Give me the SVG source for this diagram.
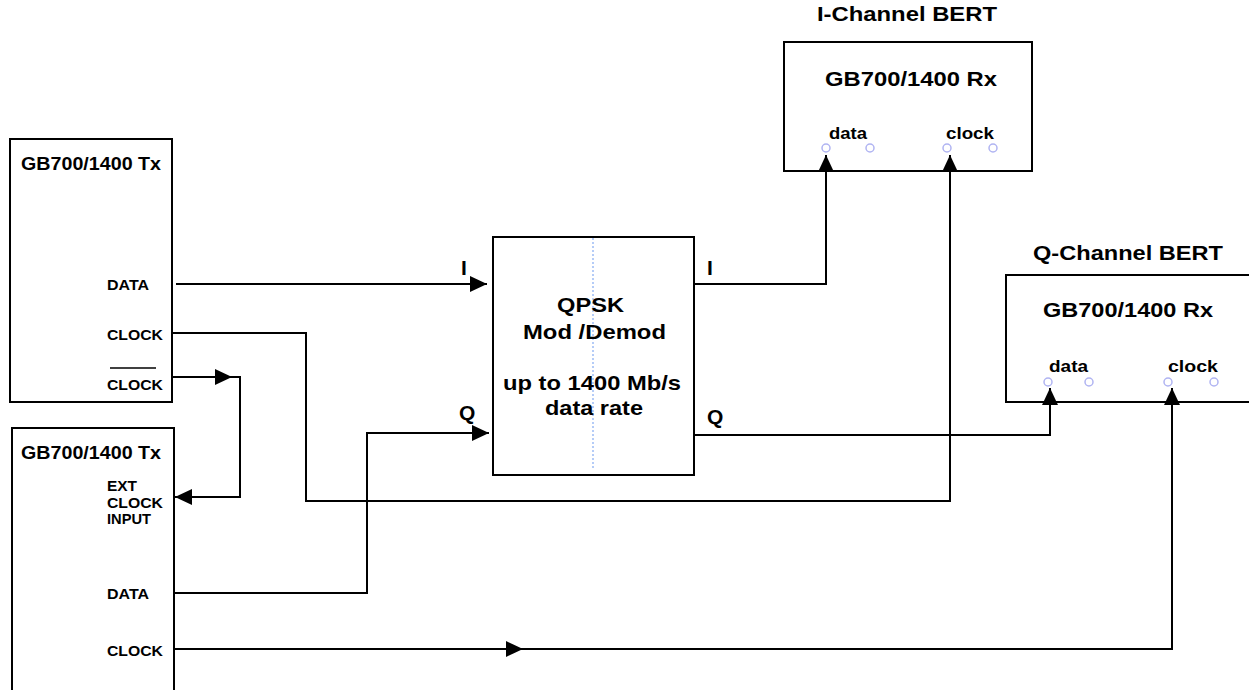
<svg xmlns="http://www.w3.org/2000/svg" width="1249" height="690" viewBox="0 0 1249 690">
<style>
.box{fill:none;stroke:#000;stroke-width:2}
.ln{fill:none;stroke:#000;stroke-width:2}
.arr{marker-end:url(#ah)}
text{font-family:"Liberation Sans",Arial,sans-serif;font-weight:bold;fill:#000}
.lbl{font-size:14px}
.ttl{font-size:19px}
.big{font-size:21px}
.sm{font-size:16px}
.pin{fill:none;stroke:#b0b4f2;stroke-width:1.5}
</style>
<defs>
<marker id="ah" viewBox="0 0 17 16" refX="17" refY="8" markerWidth="17" markerHeight="16" markerUnits="userSpaceOnUse" orient="auto">
<path d="M0,0 L17,8 L0,16 Z" fill="#000"/>
</marker>
</defs>
<rect width="1249" height="690" fill="#fff"/>

<g id="tx1">
<rect class="box" x="10" y="139" width="162" height="263"/>
<text class="ttl" x="21" y="170" textLength="140" lengthAdjust="spacingAndGlyphs">GB700/1400 Tx</text>
<text class="lbl" x="107" y="290" textLength="42" lengthAdjust="spacingAndGlyphs">DATA</text>
<text class="lbl" x="107" y="340" textLength="56" lengthAdjust="spacingAndGlyphs">CLOCK</text>
<line x1="110" y1="368" x2="156" y2="368" stroke="#000" stroke-width="1.5"/>
<text class="lbl" x="107" y="390" textLength="56" lengthAdjust="spacingAndGlyphs">CLOCK</text>
</g>

<g id="tx2">
<path class="box" d="M12,700 V428 H174 V700"/>
<text class="ttl" x="21" y="459" textLength="140" lengthAdjust="spacingAndGlyphs">GB700/1400 Tx</text>
<text class="lbl" x="107" y="491" textLength="30" lengthAdjust="spacingAndGlyphs">EXT</text>
<text class="lbl" x="107" y="508" textLength="56" lengthAdjust="spacingAndGlyphs">CLOCK</text>
<text class="lbl" x="107" y="524" textLength="44" lengthAdjust="spacingAndGlyphs">INPUT</text>
<text class="lbl" x="107" y="599" textLength="42" lengthAdjust="spacingAndGlyphs">DATA</text>
<text class="lbl" x="107" y="656" textLength="56" lengthAdjust="spacingAndGlyphs">CLOCK</text>
</g>

<g id="qpsk">
<rect class="box" x="493" y="237" width="201" height="238"/>
<line x1="593" y1="238" x2="593" y2="470" stroke="#9dbcf5" stroke-width="1.5" stroke-dasharray="2,2"/>
<text class="big" x="557" y="312" textLength="67" lengthAdjust="spacingAndGlyphs">QPSK</text>
<text class="big" x="523" y="339" textLength="143" lengthAdjust="spacingAndGlyphs">Mod /Demod</text>
<text class="big" x="503" y="390" textLength="178" lengthAdjust="spacingAndGlyphs">up to 1400 Mb/s</text>
<text class="big" x="545" y="415" textLength="98" lengthAdjust="spacingAndGlyphs">data rate</text>
</g>

<g id="ibert">
<text class="big" x="817" y="21" textLength="180" lengthAdjust="spacingAndGlyphs">I-Channel BERT</text>
<rect class="box" x="784" y="42" width="248" height="129"/>
<text class="big" x="825" y="86" textLength="172" lengthAdjust="spacingAndGlyphs">GB700/1400 Rx</text>
<text class="sm" x="829" y="139" textLength="38" lengthAdjust="spacingAndGlyphs">data</text>
<text class="sm" x="946" y="139" textLength="48" lengthAdjust="spacingAndGlyphs">clock</text>
<circle class="pin" cx="826" cy="148" r="4"/>
<circle class="pin" cx="870" cy="148" r="4"/>
<circle class="pin" cx="947" cy="148" r="4"/>
<circle class="pin" cx="993" cy="148" r="4"/>
</g>

<g id="qbert">
<text class="big" x="1033" y="260" textLength="190" lengthAdjust="spacingAndGlyphs">Q-Channel BERT</text>
<path class="box" d="M1260,275 H1006 V402 H1260"/>
<text class="big" x="1043" y="317" textLength="170" lengthAdjust="spacingAndGlyphs">GB700/1400 Rx</text>
<text class="sm" x="1049" y="372" textLength="39" lengthAdjust="spacingAndGlyphs">data</text>
<text class="sm" x="1168" y="372" textLength="50" lengthAdjust="spacingAndGlyphs">clock</text>
<circle class="pin" cx="1048" cy="382" r="4"/>
<circle class="pin" cx="1089" cy="382" r="4"/>
<circle class="pin" cx="1168" cy="382" r="4"/>
<circle class="pin" cx="1214" cy="382" r="4"/>
</g>

<g id="connectors">
<path class="ln arr" d="M176,284 H487"/>
<path class="ln arr" d="M172,333 H306 V501 H950 V155"/>
<path class="ln arr" d="M173,377 H232"/>
<path class="ln arr" d="M231,377 H240 V497 H175"/>
<path class="ln arr" d="M174,593 H367 V433 H489"/>
<path class="ln arr" d="M174,649 H523"/>
<path class="ln arr" d="M522,649 H1172 V388"/>
<path class="ln arr" d="M694,284 H826 V155"/>
<path class="ln arr" d="M694,435 H1050 V388"/>
<text class="big" x="461" y="275">I</text>
<text class="big" x="459" y="420">Q</text>
<text class="big" x="707" y="275">I</text>
<text class="big" x="707" y="424">Q</text>
</g>
</svg>
